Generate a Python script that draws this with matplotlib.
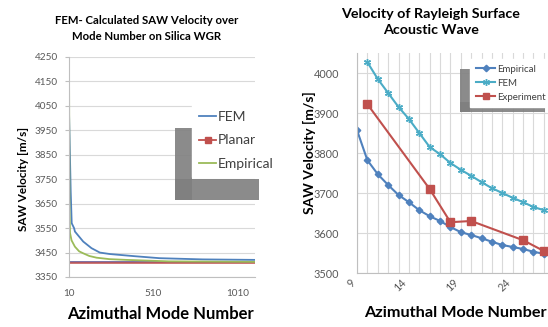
import matplotlib

matplotlib.use("Agg")
import matplotlib.pyplot as plt
from matplotlib.lines import Line2D
from matplotlib.patches import Rectangle

plt.rcParams["font.family"] = ["Lato", "DejaVu Sans"]

W, H = 548, 327

# Left chart: FEM / planar / empirical velocity over mode number
fem_l_x = [10, 20, 26, 40, 45, 94, 143, 192, 251, 400, 545, 800, 1110]
fem_l_y = [4030, 3700, 3570, 3550, 3536, 3495, 3468, 3450, 3444, 3435, 3427, 3422, 3420]
emp_l_x = [10, 13, 16, 25, 45, 70, 94, 130, 173, 250, 350, 600, 1110]
emp_l_y = [4250, 3620, 3530, 3500, 3474, 3455, 3447, 3436, 3429, 3423, 3420, 3414, 3412]
planar_x = [10, 1110]
planar_y = [3406, 3406]
other_y = [3412, 3412]

# Right chart: Rayleigh SAW velocity
modes = list(range(9, 28))
emp_r = [3857, 3782, 3747, 3720, 3695, 3677, 3657, 3642, 3630, 3615, 3602,
         3595, 3587, 3578, 3570, 3565, 3560, 3553, 3548]
fem_r_x = list(range(10, 28))
fem_r = [4027, 3985, 3950, 3915, 3885, 3850, 3815, 3797, 3775, 3758,
         3743, 3727, 3712, 3700, 3688, 3677, 3665, 3657]
exp_x = [10, 16, 18, 20, 25, 27]
exp_y = [3922, 3710, 3627, 3630, 3582, 3555]

blue = "#4f81bd"
red = "#c0504d"
green = "#9bbb59"
cyan = "#4bacc6"
grid_c = "#d9d9d9"
tick_c = "#595959"

fig = plt.figure(figsize=(W / 100, H / 100), dpi=100)


def fbox(x0, y0, x1, y1):
    # pixel box (from top-left) -> figure fractions
    return x0 / W, 1 - y1 / H, (x1 - x0) / W, (y1 - y0) / H


def style_axes(ax):
    for s in ["top", "right"]:
        ax.spines[s].set_visible(False)
    for s in ["left", "bottom"]:
        ax.spines[s].set_color("#bfbfbf")
        ax.spines[s].set_linewidth(0.8)
    ax.tick_params(colors="#bfbfbf", labelcolor=tick_c, length=3, width=0.8)
    ax.set_axisbelow(True)


# ---- left chart
ax1 = fig.add_axes(fbox(69, 57, 255, 277))
style_axes(ax1)
ax1.plot(fem_l_x, fem_l_y, color=blue, lw=1.3)
ax1.plot(planar_x, other_y, color="#5a4a8a", lw=1.1)
ax1.plot(planar_x, planar_y, color=red, lw=1.1)
ax1.plot(emp_l_x, emp_l_y, color=green, lw=1.3)
ax1.set_xlim(10, 1110)
ax1.set_ylim(3350, 4250)
ax1.set_yticks(range(3350, 4251, 100))
ax1.set_xticks([10, 510, 1010])
ax1.grid(axis="y", color=grid_c, lw=0.8)
ax1.tick_params(axis="x", length=0, pad=9, labelsize=7.2)
ax1.tick_params(axis="y", labelsize=7.2, pad=5)
ax1.set_xlabel("Azimuthal Mode Number", fontsize=12, fontweight="bold")
ax1.xaxis.set_label_coords(0.49, -0.13)
ax1.set_ylabel("SAW Velocity [m/s]", fontsize=8.5, fontweight="bold")
ax1.yaxis.set_label_coords(-0.215, 0.445)
fig.text(147 / W, 1 - 28.5 / H, "FEM- Calculated SAW Velocity over\nMode Number on Silica WGR",
         ha="center", va="center", fontsize=8.2, fontweight="bold", linespacing=1.45)

# ---- right chart
ax2 = fig.add_axes(fbox(357, 53, 548, 273))
style_axes(ax2)
ax2.plot(modes, emp_r, color=blue, lw=1.5, marker="D", ms=3.3)
ax2.plot(fem_r_x, fem_r, color=cyan, lw=1.5, marker=(6, 2, 0), ms=5, mew=1)
ax2.plot(exp_x, exp_y, color=red, lw=1.5, marker="s", ms=5.5)
ax2.set_xlim(9, 27.4)
ax2.set_ylim(3500, 4050)
ax2.set_yticks(range(3500, 4001, 100))
ax2.set_xticks([9, 14, 19, 24])
ax2.set_xticks(range(9, 28), minor=True)
ax2.tick_params(axis="x", which="both", length=0)
ax2.tick_params(axis="y", length=0, labelsize=7.8, pad=13)
ax2.grid(which="both", color=grid_c, lw=0.8)
for lab in ax2.get_xticklabels():
    lab.set_rotation(45)
    lab.set_ha("right")
ax2.tick_params(axis="x", labelsize=7.8, pad=3)
ax2.set_xlabel("Azimuthal Mode Number", fontsize=11.7, fontweight="bold")
ax2.xaxis.set_label_coords(0.515, -0.15)
ax2.set_ylabel("SAW Velocity [m/s]", fontsize=10, fontweight="bold")
ax2.yaxis.set_label_coords(-0.215, 0.545)
fig.text(431 / W, 1 - 21.5 / H, "Velocity of Rayleigh Surface\nAcoustic Wave",
         ha="center", va="center", fontsize=10.3, fontweight="bold", linespacing=1.4)

# legend shadows (L-shaped grey blocks behind the legend boxes)
shadows = [(175, 128, 192, 200), (175, 179, 259, 200),
           (460, 69, 470, 112), (460, 102, 545, 112)]
for (x0, y0, x1, y1) in shadows:
    b = fbox(x0, y0, x1, y1)
    fig.add_artist(Rectangle(b[:2], b[2], b[3], transform=fig.transFigure,
                             color="#7f7f7f", alpha=0.9, zorder=2, lw=0))

# legends
h1 = [Line2D([], [], color=blue, lw=1.3),
      Line2D([], [], color=red, lw=1.3, marker="s", ms=5),
      Line2D([], [], color=green, lw=1.3)]
leg1 = fig.legend(h1, ["FEM", "Planar", "Empirical"], loc="upper left",
                  bbox_to_anchor=(192 / W, 1 - 104 / H), bbox_transform=fig.transFigure,
                  fontsize=10, frameon=True, fancybox=False, edgecolor="white",
                  facecolor="white", framealpha=1, handlelength=1.25, handletextpad=0.1,
                  labelspacing=0.83, borderpad=0.5, borderaxespad=0)
leg1.set_zorder(5)
for t in leg1.get_texts():
    t.set_color("#404040")

h2 = [Line2D([], [], color=blue, lw=1.5, marker="D", ms=3.3),
      Line2D([], [], color=cyan, lw=1.5, marker=(6, 2, 0), ms=5),
      Line2D([], [], color=red, lw=1.5, marker="s", ms=5)]
leg2 = fig.legend(h2, ["Empirical", "FEM", "Experiment"], loc="upper left",
                  bbox_to_anchor=(470 / W, 1 - 59 / H), bbox_transform=fig.transFigure,
                  fontsize=7, frameon=True, fancybox=False, edgecolor="white",
                  facecolor="white", framealpha=1, handlelength=2.0, handletextpad=0.2,
                  labelspacing=0.5, borderpad=0.6, borderaxespad=0)
leg2.set_zorder(5)
for t in leg2.get_texts():
    t.set_color("#404040")

fig.savefig("out.png", dpi=100)
